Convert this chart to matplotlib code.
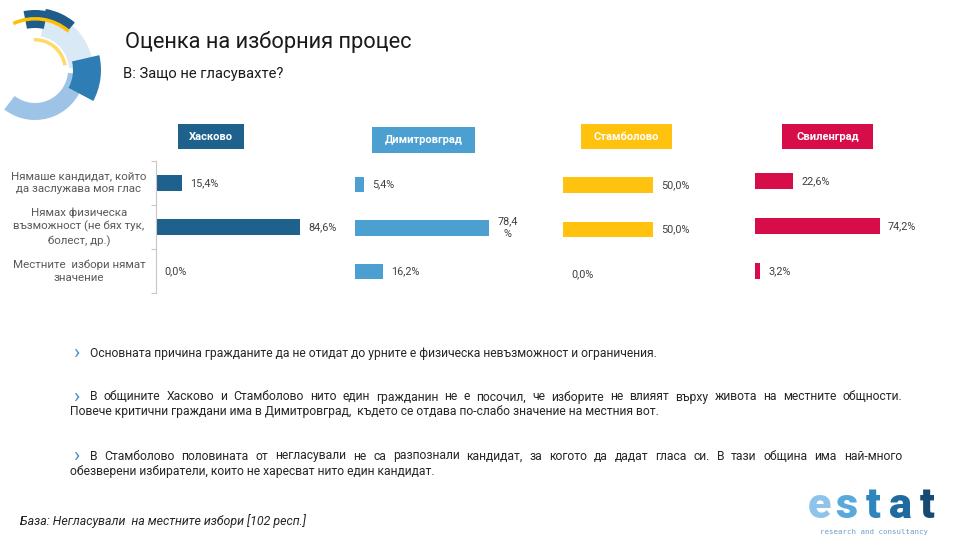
import matplotlib
matplotlib.use("Agg")
import matplotlib.pyplot as plt
from matplotlib.patches import Wedge, Rectangle

# ---------------- data ----------------
title = "Оценка на изборния процес"
subtitle = "В: Защо не гласувахте?"
categories = ["Нямаше кандидат, който\nда заслужава моя глас",
              "Нямах физическа\nвъзможност (не бях тук,\nболест, др.)",
              "Местните  избори нямат\nзначение"]
municipalities = ["Хасково", "Димитровград", "Стамболово", "Свиленград"]
haskovo = [15.4, 84.6, 0.0]
dimitrovgrad = [5.4, 78.4, 16.2]
stambolovo = [50.0, 50.0, 0.0]
svilengrad = [22.6, 74.2, 3.2]
haskovo_labels = ["15,4%", "84,6%", "0,0%"]
dimitrovgrad_labels = ["5,4%", "78,4\n%", "16,2%"]
stambolovo_labels = ["50,0%", "50,0%", "0,0%"]
svilengrad_labels = ["22,6%", "74,2%", "3,2%"]
colors = ["#1F618D", "#4BA0D1", "#FFC20E", "#D60D49"]

bullet1 = "Основната причина гражданите да не отидат до урните е физическа невъзможност и ограничения."
bullet2_l1 = "В общините Хасково и Стамболово нито един гражданин не е посочил, че изборите не влияят върху живота на местните общности."
bullet2_l2 = "Повече критични граждани има в Димитровград,  където се отдава по-слабо значение на местния вот."
bullet3_l1 = "В Стамболово половината от негласували не са разпознали кандидат, за когото да дадат гласа си. В тази община има най-много"
bullet3_l2 = "обезверени избиратели, които не харесват нито един кандидат."
footer = "База: Негласували  на местните избори [102 респ.]"

plt.rcParams['font.family'] = ['Roboto', 'DejaVu Sans']

fig = plt.figure(figsize=(9.6, 5.4), dpi=100)
fig.patch.set_facecolor("white")
bg = fig.add_axes([0, 0, 1, 1])
bg.set_xlim(0, 960)
bg.set_ylim(540, 0)
bg.axis("off")
renderer = fig.canvas.get_renderer()


def fit(x, y, s, target_w, base=10, **kw):
    t = bg.text(x, y, s, fontsize=base, **kw)
    w = t.get_window_extent(renderer).width
    t.set_fontsize(base * target_w / w)
    return t


def size_for(s, target_w, base=10, **kw):
    t = bg.text(0, 0, s, fontsize=base, **kw)
    w = t.get_window_extent(renderer).width
    t.remove()
    return base * target_w / w


# ---------------- top-left logo ----------------
C = (35, 70)


def ring(r_in, r_out, a1, a2, color):
    bg.add_patch(Wedge(C, r_out, -a2, -a1, width=r_out - r_in,
                       facecolor=color, edgecolor="none"))


ring(34, 58, 3, 80, "#DAE9F6")
ring(33, 50, -128, -5, "#9DC3E6")
ring(38, 66, -28, 13, "#2E7DB5")
ring(42, 60, 78, 101, "#1F5C8C")
ring(52, 62, 50, 80, "#1F5C8C")
ring(49.5, 53, 49, 115, "#FFC000")
ring(28.5, 32, 9, 92, "#FFD966")

# ---------------- title ----------------
fit(125, 42, title, 288, va="center", ha="left", color="#1a1a1a")
fit(123, 74, subtitle, 160, va="center", ha="left", color="#1a1a1a")

# ---------------- headers ----------------
header_boxes = [(178, 124, 66, 25), (372, 127, 103, 26), (581, 124, 91, 25), (782, 124, 91, 25)]
hfs = size_for(municipalities[0], 44, fontweight="bold")
for (hx, hy, hw, hh), name, col in zip(header_boxes, municipalities, colors):
    bg.add_patch(Rectangle((hx, hy), hw, hh, facecolor=col, edgecolor="none"))
    bg.text(hx + hw / 2, hy + hh / 2, name, fontsize=hfs, fontweight="bold",
            color="white", ha="center", va="center")

# ---------------- category labels ----------------
cfs = size_for("възможност (не бях тук,", 131)
cat_y = [183, 227, 271]
for cy, lab in zip(cat_y, categories):
    bg.text(79, cy, lab, fontsize=cfs, color="#595959", ha="center", va="center",
            multialignment="center", linespacing=15.5 / (cfs * 100 / 72))

# ---------------- bar panels ----------------
layout = [(156, 1.70, 183, 44), (355, 1.71, 184.5, 43.5), (563, 1.80, 185, 44.5), (755, 1.685, 181, 45)]
values = [haskovo, dimitrovgrad, stambolovo, svilengrad]
labels = [haskovo_labels, dimitrovgrad_labels, stambolovo_labels, svilengrad_labels]
vfs = size_for("15,4%", 28.5)
for i, (vals, labs, col) in enumerate(zip(values, labels, colors)):
    x0, sc, c0, sp = layout[i]
    top = c0 - sp / 2
    bottom = c0 + 2.5 * sp
    ax = fig.add_axes([x0 / 960, 1 - bottom / 540, sc * 100 / 960, (bottom - top) / 540])
    ax.barh(range(len(vals)), vals, height=0.35, color=col)
    ax.set_xlim(0, 100)
    ax.set_ylim(2.5, -0.5)
    ax.patch.set_alpha(0)
    for s in ax.spines.values():
        s.set_visible(False)
    ax.set_xticks([])
    if i == 0:
        ax.spines["left"].set_visible(True)
        ax.spines["left"].set_color("#C8C8C8")
        ax.spines["left"].set_linewidth(0.8)
        ax.set_yticks([-0.5, 0.5, 1.5, 2.5])
        ax.set_yticklabels([])
        ax.tick_params(axis="y", length=3.5, color="#C8C8C8", width=0.8)
    else:
        ax.set_yticks([])
    for j, (v, lab) in enumerate(zip(vals, labs)):
        ax.annotate(lab, xy=(v, j), xytext=(5.8, 0), textcoords="offset points",
                    va="center", ha="left", fontsize=vfs, color="#404040",
                    multialignment="center", linespacing=1.35)

# ---------------- bullets ----------------
bfs = size_for(bullet1, 572)
txt_col = "#262626"
chev_col = "#4A8FCB"


def chevron(y):
    bg.text(76, y + 0.5, "›", fontsize=bfs * 1.7, color=chev_col, ha="center", va="center")


def justified(text, x0, x1, y):
    words = text.split()
    ts = [bg.text(0, y, w, fontsize=bfs, va="center", ha="left", color=txt_col) for w in words]
    widths = [t.get_window_extent(renderer).width for t in ts]
    gap = (x1 - x0 - sum(widths)) / (len(words) - 1)
    x = x0
    for t, w in zip(ts, widths):
        t.set_x(x)
        x += w + gap


chevron(353)
bg.text(90, 353, bullet1, fontsize=bfs, color=txt_col, ha="left", va="center")
chevron(397)
justified(bullet2_l1, 90, 902, 397)
bg.text(70, 412, bullet2_l2, fontsize=bfs, color=txt_col, ha="left", va="center")
chevron(456)
justified(bullet3_l1, 90, 902, 456)
bg.text(70, 471, bullet3_l2, fontsize=bfs, color=txt_col, ha="left", va="center")

# ---------------- footer ----------------
fit(20, 521, footer, 285, va="center", ha="left", color="#262626", fontstyle="italic")

# ---------------- estat logo ----------------
logo_letters = ["e", "s", "t", "a", "t"]
logo_colors = ["#8EC3EA", "#5AA9DD", "#2F86BF", "#1F6BA0", "#174A72"]
logo_x = [819, 846, 873, 900, 927]
for lx, ch, lc in zip(logo_x, logo_letters, logo_colors):
    bg.text(lx, 518, ch, fontsize=31, fontweight="heavy", color=lc, ha="center", va="baseline")
fit(820, 532, "research and consultancy", 107, va="center", ha="left",
    color="#6A9CC9", family="DejaVu Sans Mono")

fig.savefig("out.png", dpi=100)
